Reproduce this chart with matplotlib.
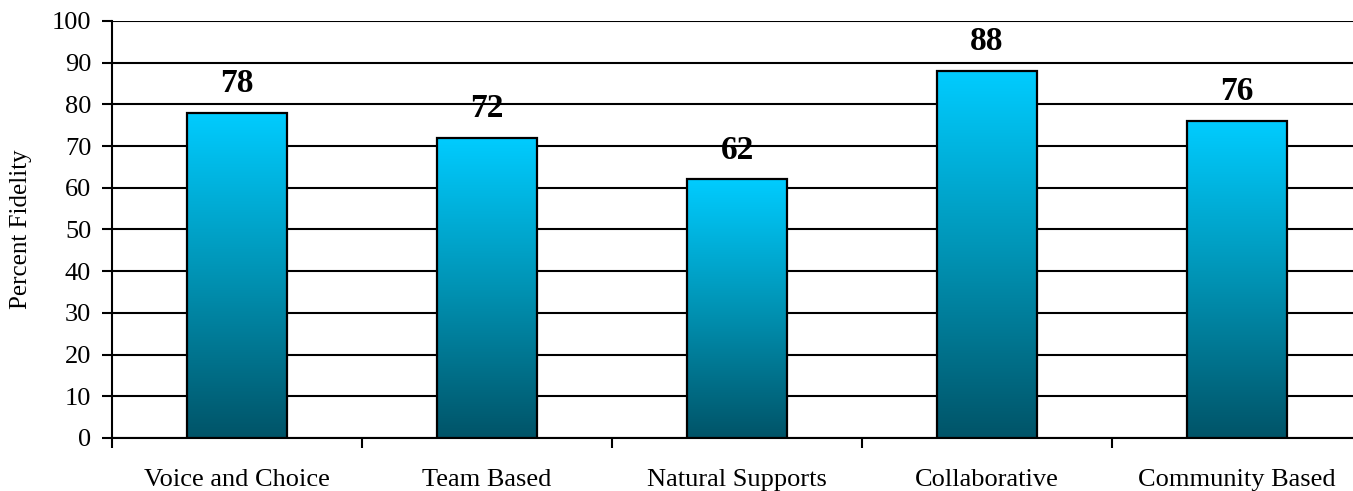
import matplotlib.pyplot as plt
import numpy as np
from matplotlib.colors import LinearSegmentedColormap
from matplotlib.patches import Rectangle

categories = ['Voice and Choice', 'Team Based', 'Natural Supports', 'Collaborative', 'Community Based']
values = [78, 72, 62, 88, 76]

plt.rcParams['font.family'] = ['Liberation Serif', 'DejaVu Serif']

fig = plt.figure(figsize=(13.53, 4.91), dpi=100)
# axes runs slightly past the right edge, like the original
ax = fig.add_axes([112 / 1353, 1 - 438 / 491, 1250 / 1353, 417 / 491])

cmap = LinearSegmentedColormap.from_list('bar', ['#005468', '#0093b4', '#00ccff'])
grad = np.linspace(0, 1, 256).reshape(-1, 1)

x = np.arange(len(categories))
width = 0.4
for xi, v in zip(x, values):
    im = ax.imshow(grad, cmap=cmap, origin='lower', aspect='auto',
                   extent=[xi - width / 2, xi + width / 2, 0, v], zorder=3)
    rect = Rectangle((xi - width / 2, 0), width, v, fill=False,
                     edgecolor='black', lw=1.6, zorder=4)
    ax.add_patch(rect)
    im.set_clip_path(rect)
    ax.text(xi, v + 3.3, str(v), ha='center', va='bottom',
            fontsize=24, fontweight='bold', zorder=5)

ax.set_xlim(-0.5, len(categories) - 0.5)
ax.set_ylim(0, 100)
ax.set_yticks(np.arange(0, 101, 10))
ax.yaxis.grid(True, color='black', lw=1.5, zorder=1)
ax.set_axisbelow(True)

ax.set_xticks(np.arange(-0.5, len(categories), 1))
ax.set_xticklabels([])
ax.set_xticks(x, minor=True)
ax.set_xticklabels(categories, minor=True, fontsize=19)
ax.tick_params(axis='x', which='minor', length=0, pad=22)
ax.tick_params(axis='x', which='major', length=7, width=1.5, direction='out')
ax.tick_params(axis='y', length=7, width=1.5, direction='out', labelsize=19, pad=8)

for s in ['top', 'right']:
    ax.spines[s].set_visible(False)
for s in ['left', 'bottom']:
    ax.spines[s].set_linewidth(1.5)

ax.set_ylabel('Percent Fidelity', fontsize=18, labelpad=14)

fig.savefig('out.png', dpi=100)
